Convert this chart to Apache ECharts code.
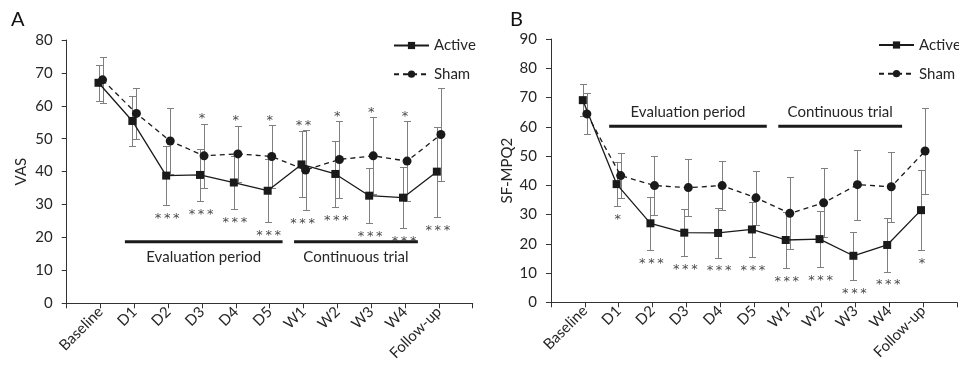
<!DOCTYPE html>
<html><head><meta charset="utf-8">
<script src="https://cdn.jsdelivr.net/npm/echarts@6/dist/echarts.min.js"></script>
<style>html,body{margin:0;padding:0;background:#fff}#c{width:959px;height:367px}</style>
</head><body><div id="c"></div>
<script>
// ---- data ----
const categories = ['Baseline','D1','D2','D3','D4','D5','W1','W2','W3','W4','Follow-up'];

const vasActive   = [67.0, 55.4, 38.8, 39.0, 36.7, 34.2, 42.2, 39.3, 32.7, 32.1, 40.0];
const vasActiveSD = [5.4, 7.6, 9.0, 7.9, 8.2, 9.6, 10.0, 10.0, 8.4, 9.3, 13.7];
const vasSham     = [67.9, 57.7, 49.3, 44.8, 45.4, 44.6, 40.5, 43.7, 44.8, 43.2, 51.3];
const vasShamSD   = [7.0, 7.8, 9.9, 9.8, 8.6, 9.5, 12.1, 11.7, 11.7, 12.2, 14.2];
const vasSigTop    = ['', '', '', '*', '*', '*', '**', '*', '*', '*', ''];
const vasSigBottom = ['', '', '***', '***', '***', '***', '***', '***', '***', '***', '***'];

const mpqActive   = [69.1, 40.4, 27.0, 23.8, 23.7, 24.9, 21.3, 21.6, 15.9, 19.6, 31.5];
const mpqActiveSD = [5.4, 7.5, 9.1, 8.0, 8.4, 9.5, 9.7, 9.6, 8.3, 9.1, 13.7];
const mpqSham     = [64.4, 43.3, 39.9, 39.2, 39.9, 35.7, 30.4, 34.0, 40.2, 39.5, 51.7];
const mpqShamSD   = [7.0, 7.8, 10.2, 9.7, 8.5, 9.3, 12.3, 11.8, 11.9, 12.0, 14.6];
const mpqSigTop    = ['', '', '', '', '', '', '', '', '', '', ''];
const mpqSigBottom = ['', '*', '***', '***', '***', '***', '***', '***', '***', '***', '*'];

const periodNames = ['Evaluation period', 'Continuous trial'];
const periodFirst = ['D1', 'W1'];
const periodLast  = ['D5', 'W4'];

const vasTicks = [0, 80, 10];
const mpqTicks = [0, 90, 10];

// ---- styles ----
const FONT = 'Lato';
const STAR_FONT = '13px "DejaVu Sans"';
const TXT = '#262626';
const INK = '#1a1a1a';
const ERR = '#7f7f7f';
const OFF = 0.06;

const chart = echarts.init(document.getElementById('c'), null, {renderer: 'canvas'});

function pts(vals, off) { return vals.map((v, i) => [i + 1 + off, v]); }
function stars(s) { return s.split('').join('\u2009'); }

function errSeries(g, vals, sds, off) {
  return {
    type: 'custom', xAxisIndex: g, yAxisIndex: g, z: 1, silent: true, animation: false,
    data: vals.map((v, i) => [i + 1 + off, v - sds[i], v + sds[i]]),
    encode: {x: 0, y: [1, 2]},
    renderItem(params, api) {
      const x = api.value(0);
      const lo = api.coord([x, api.value(1)]);
      const hi = api.coord([x, api.value(2)]);
      const px = Math.round(lo[0]) + 0.5;
      const ylo = Math.round(lo[1]) + 0.5, yhi = Math.round(hi[1]) + 0.5;
      const cw = 3.5;
      const style = {stroke: ERR, lineWidth: 1};
      return {type: 'group', children: [
        {type: 'line', shape: {x1: px, y1: ylo, x2: px, y2: yhi}, style},
        {type: 'line', shape: {x1: px - cw, y1: ylo, x2: px + cw, y2: ylo}, style},
        {type: 'line', shape: {x1: px - cw, y1: yhi, x2: px + cw, y2: yhi}, style}
      ]};
    }
  };
}

function sigSeries(g, act, actSD, sham, shamSD, top, bottom) {
  return {
    type: 'custom', xAxisIndex: g, yAxisIndex: g, z: 4, silent: true, animation: false,
    data: categories.map((c, i) => [i + 1,
      Math.min(act[i] - actSD[i], sham[i] - shamSD[i]),
      Math.max(act[i] + actSD[i], sham[i] + shamSD[i]), i]),
    encode: {x: 0, y: [1, 2]},
    renderItem(params, api) {
      const i = api.value(3);
      const lo = api.coord([api.value(0), api.value(1)]);
      const hi = api.coord([api.value(0), api.value(2)]);
      const ch = [];
      if (top[i]) ch.push({type: 'text', x: hi[0], y: hi[1] - 4.5,
        style: {text: stars(top[i]), font: STAR_FONT, fill: '#4a4a4a', align: 'center', verticalAlign: 'middle'}});
      if (bottom[i]) ch.push({type: 'text', x: lo[0] - 1, y: lo[1] + 13.5,
        style: {text: stars(bottom[i]), font: STAR_FONT, fill: '#4a4a4a', align: 'center', verticalAlign: 'middle'}});
      return {type: 'group', children: ch};
    }
  };
}

function periodSeries(g, barVal, textDy) {
  return {
    type: 'custom', xAxisIndex: g, yAxisIndex: g, z: 4, silent: true, animation: false,
    data: periodNames.map((n, k) => [categories.indexOf(periodFirst[k]) + 1, categories.indexOf(periodLast[k]) + 1, barVal, k]),
    encode: {x: [0, 1], y: 2},
    renderItem(params, api) {
      const a = api.coord([api.value(0) - 0.28, api.value(2)]);
      const b = api.coord([api.value(1) + 0.38, api.value(2)]);
      const k = api.value(3);
      return {type: 'group', children: [
        {type: 'rect', shape: {x: a[0], y: a[1] - 1.5, width: b[0] - a[0], height: 3}, style: {fill: INK}},
        {type: 'text', x: (a[0] + b[0]) / 2, y: a[1] + textDy,
          style: {text: periodNames[k], font: '15px ' + FONT, fill: TXT, align: 'center', verticalAlign: 'middle'}}
      ]};
    }
  };
}

function lineSeries(g, name, vals, off, dashed) {
  return {
    type: 'line', name, xAxisIndex: g, yAxisIndex: g, z: 3, animation: false,
    data: pts(vals, off),
    symbol: dashed ? 'circle' : 'rect', symbolSize: dashed ? 9 : 8,
    lineStyle: {color: INK, width: 1.3, type: dashed ? [5, 4] : 'solid'},
    itemStyle: {color: INK}
  };
}

function xAxis(g) {
  return {
    gridIndex: g, type: 'value', min: 0, max: 12, interval: 1,
    axisLine: {show: true, lineStyle: {color: '#333', width: 1}},
    axisTick: {show: true, length: 5, lineStyle: {color: '#333'}},
    splitLine: {show: false},
    axisLabel: {rotate: 45, margin: 6, fontFamily: FONT, fontSize: 15, color: TXT,
      showMinLabel: true, showMaxLabel: true,
      formatter: v => categories[v - 1] || ''}
  };
}

function yAxis(g, name, t, gap) {
  return {
    gridIndex: g, type: 'value', min: t[0], max: t[1], interval: t[2],
    name, nameLocation: 'middle', nameGap: gap, nameRotate: 90,
    nameTextStyle: {fontFamily: FONT, fontSize: 15, color: TXT},
    axisLine: {show: true, lineStyle: {color: '#333', width: 1}},
    axisTick: {show: true, length: 5, lineStyle: {color: '#333'}},
    splitLine: {show: false},
    axisLabel: {margin: 14, fontFamily: FONT, fontSize: 15, color: TXT}
  };
}

function legend(left, top) {
  return {
    left, top, orient: 'vertical', padding: 0, itemWidth: 35, itemHeight: 9, itemGap: 13.7,
    data: ['Active', 'Sham'], selectedMode: false,
    textStyle: {fontFamily: FONT, fontSize: 15, lineHeight: 14, color: TXT}
  };
}

chart.setOption({
  animation: false,
  backgroundColor: '#fff',
  title: [
    {text: 'A', left: 11, top: 10, padding: 0, textStyle: {fontFamily: FONT, fontSize: 20, fontWeight: 'normal', color: '#111'}},
    {text: 'B', left: 510, top: 10, padding: 0, textStyle: {fontFamily: FONT, fontSize: 20, fontWeight: 'normal', color: '#111'}}
  ],
  legend: [legend(393, 38), legend(878, 37.5)],
  grid: [
    {left: 66.7, top: 40, width: 406, height: 263.3},
    {left: 551, top: 39, width: 407.3, height: 263.3}
  ],
  xAxis: [xAxis(0), xAxis(1)],
  yAxis: [yAxis(0, 'VAS', vasTicks, 38), yAxis(1, 'SF-MPQ2', mpqTicks, 36)],
  series: [
    errSeries(0, vasActive, vasActiveSD, -OFF),
    errSeries(0, vasSham, vasShamSD, OFF),
    lineSeries(0, 'Sham', vasSham, OFF, true),
    lineSeries(0, 'Active', vasActive, -OFF, false),
    sigSeries(0, vasActive, vasActiveSD, vasSham, vasShamSD, vasSigTop, vasSigBottom),
    periodSeries(0, 18.7, 15),
    errSeries(1, mpqActive, mpqActiveSD, -OFF),
    errSeries(1, mpqSham, mpqShamSD, OFF),
    lineSeries(1, 'Sham', mpqSham, OFF, true),
    lineSeries(1, 'Active', mpqActive, -OFF, false),
    sigSeries(1, mpqActive, mpqActiveSD, mpqSham, mpqShamSD, mpqSigTop, mpqSigBottom),
    periodSeries(1, 60.15, -14)
  ]
});
</script>
</body></html>
